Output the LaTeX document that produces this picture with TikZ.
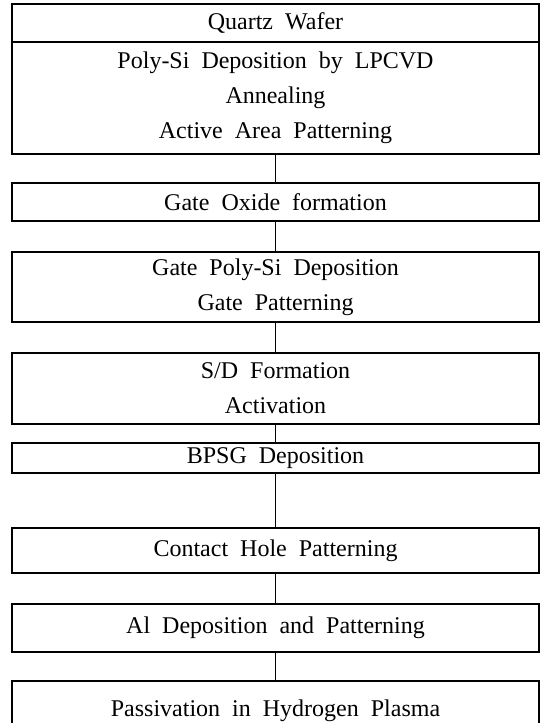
\documentclass[tikz,border=0pt]{standalone}
\usepackage{fontspec}
\setmainfont{Liberation Serif}[WordSpace=2.0]
\tikzset{procbox/.style={draw, line width=1.1pt, minimum width=527pt, inner sep=0pt, align=center}}

\begin{document}
\begin{tikzpicture}[x=1pt, y=-1pt, font=\fontsize{24}{35}\selectfont, line width=1.1pt]
	\clip (0,0) rectangle (541,723);
	\node[procbox, minimum height=38pt] (wafer) at (275.5,23) {Quartz Wafer};
	\node[procbox, minimum height=112pt] (lpcvd) at (275.5,98) {Poly-Si Deposition by LPCVD\\Annealing\\Active Area Patterning};
	\node[procbox, minimum height=38pt] (oxide) at (275.5,202) {Gate Oxide formation};
	\node[procbox, minimum height=70pt] (gatepoly) at (275.5,287) {Gate Poly-Si Deposition\\Gate Patterning};
	\node[procbox, minimum height=71pt] (sd) at (275.5,388.5) {S/D Formation\\Activation};
	\node[procbox, minimum height=30pt] (bpsg) at (275.5,458) {BPSG Deposition};
	\node[procbox, minimum height=45pt] (contact) at (275.5,550.5) {Contact Hole Patterning};
	\node[procbox, minimum height=48pt] (al) at (275.5,628) {Al Deposition and Patterning};
	\node[procbox, minimum height=60pt] (pass) at (275.5,711) {Passivation in Hydrogen Plasma};
	\draw (lpcvd) -- (oxide);
	\draw (oxide) -- (gatepoly);
	\draw (gatepoly) -- (sd);
	\draw (sd) -- (bpsg);
	\draw (bpsg) -- (contact);
	\draw (contact) -- (al);
	\draw (al) -- (pass);
\end{tikzpicture}
\end{document}
